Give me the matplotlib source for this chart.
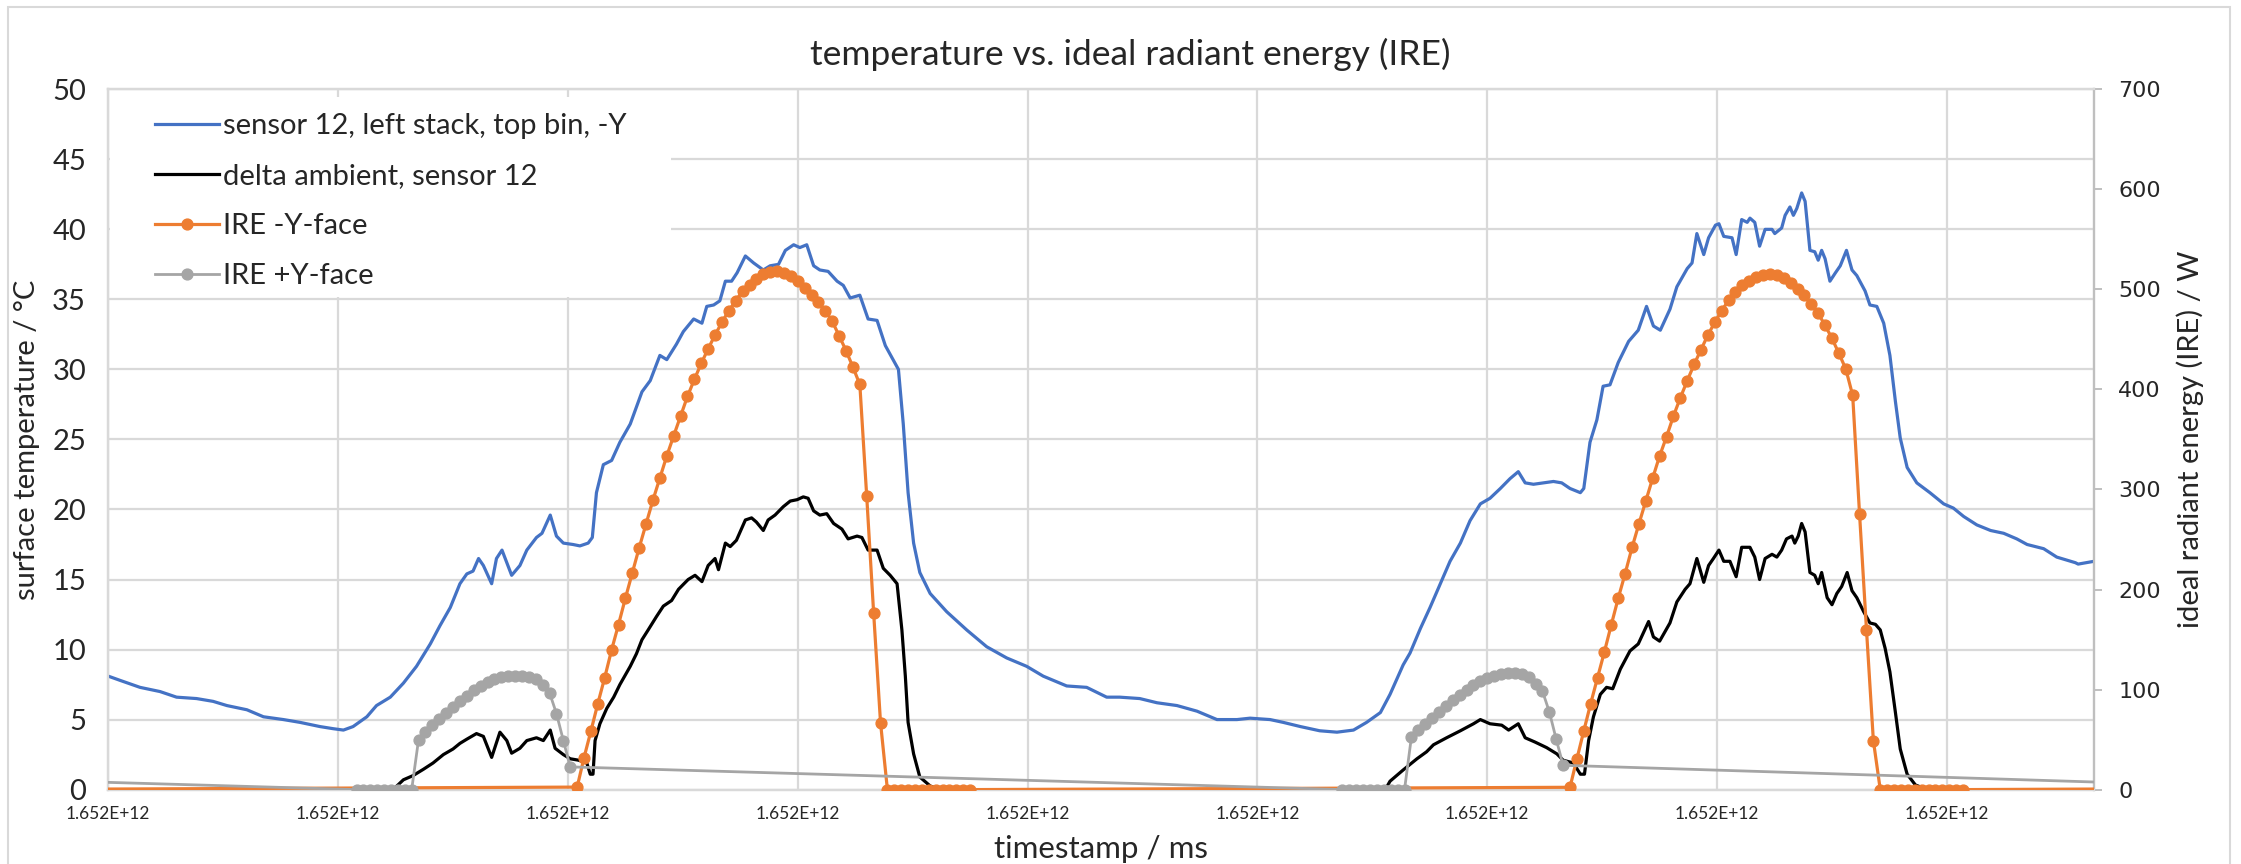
import numpy as np
import matplotlib
matplotlib.use("Agg")
import matplotlib.pyplot as plt
from matplotlib.patches import Rectangle
from matplotlib.ticker import FuncFormatter, MultipleLocator

# ---------------------------
# time base: x values are minutes after the axis start, plotted as ms timestamps
# ---------------------------
T0_MS = 1652040000000
TICK_MS = 2e7
SPAN_MIN = 2880
STEP_MIN = 10

# sensor 12, left stack, top bin, -Y  (degC)
sensor_min = [0, 17, 46, 75, 99, 128, 152, 172, 201, 225, 254, 278, 307, 326, 341, 355, 375, 389,
              409, 428, 447, 467, 481, 496, 510, 520, 529, 537, 544, 556, 563, 571, 585, 597, 607,
              621, 629, 641, 650, 660, 674, 684, 696, 702, 708, 718, 730, 742, 757, 774, 786, 800,
              810, 824, 834, 849, 861, 868, 878, 887, 895, 904, 912, 924, 936, 950, 960, 972, 982,
              994, 1003, 1013, 1023, 1032, 1044, 1057, 1066, 1076, 1090, 1102, 1115, 1127, 1136,
              1146, 1153, 1160, 1168, 1177, 1192, 1216, 1245, 1274, 1303, 1332, 1356, 1390, 1419,
              1448, 1467, 1496, 1521, 1550, 1579, 1608, 1637, 1656, 1685, 1704, 1729, 1757, 1782,
              1806, 1825, 1845, 1859, 1878, 1888, 1903, 1917, 1932, 1946, 1961, 1975, 1990, 2004,
              2019, 2033, 2045, 2055, 2067, 2082, 2096, 2108, 2120, 2135, 2140, 2149, 2159, 2168,
              2178, 2190, 2205, 2219, 2231, 2241, 2251, 2265, 2275, 2290, 2297, 2304, 2314, 2321,
              2331, 2336, 2343, 2355, 2361, 2369, 2377, 2381, 2388, 2395, 2403, 2413, 2417, 2427,
              2432, 2439, 2444, 2449, 2456, 2461, 2468, 2475, 2480, 2485, 2490, 2497, 2505, 2512,
              2521, 2529, 2536, 2548, 2555, 2565, 2575, 2584, 2592, 2599, 2609, 2623, 2642, 2662,
              2676, 2691, 2710, 2730, 2749, 2768, 2783, 2807, 2826, 2853, 2857, 2880]
sensor_temp = [8.1, 7.8, 7.3, 7.0, 6.6, 6.5, 6.3, 6.0, 5.7, 5.2, 5.0, 4.8, 4.5, 4.35, 4.25, 4.5, 5.2,
               6.0, 6.6, 7.6, 8.8, 10.4, 11.7, 13.0, 14.7, 15.4, 15.6, 16.5, 16.0, 14.7, 16.5, 17.1,
               15.3, 16.0, 17.1, 18.0, 18.3, 19.6, 18.1, 17.6, 17.5, 17.4, 17.6, 18.0, 21.2, 23.2,
               23.5, 24.8, 26.1, 28.4, 29.2, 31.0, 30.7, 31.8, 32.7, 33.6, 33.3, 34.5, 34.6, 34.9,
               36.3, 36.3, 36.9, 38.1, 37.6, 37.1, 37.4, 37.5, 38.5, 38.9, 38.7, 38.9, 37.4, 37.1,
               37.0, 36.3, 36.0, 35.1, 35.3, 33.6, 33.5, 31.7, 30.9, 30.0, 26.1, 21.2, 17.6, 15.5,
               14.0, 12.7, 11.4, 10.2, 9.4, 8.8, 8.1, 7.4, 7.3, 6.6, 6.6, 6.5, 6.2, 6.0, 5.6, 5.0,
               5.0, 5.1, 5.0, 4.8, 4.5, 4.2, 4.1, 4.25, 4.8, 5.5, 6.8, 8.9, 9.75, 11.5, 13.0, 14.7,
               16.3, 17.6, 19.2, 20.4, 20.8, 21.5, 22.2, 22.7, 21.9, 21.8, 21.9, 22.0, 21.9, 21.5,
               21.2, 21.5, 24.8, 26.4, 28.8, 28.9, 30.5, 32.0, 32.8, 34.5, 33.1, 32.8, 34.3, 35.9,
               37.2, 37.6, 39.7, 38.2, 39.4, 40.3, 40.4, 39.5, 39.4, 38.2, 40.7, 40.5, 40.8, 40.5,
               38.8, 40.0, 40.0, 39.7, 40.1, 41.0, 41.6, 41.0, 41.5, 42.6, 42.0, 38.5, 38.4, 37.8,
               38.5, 37.9, 36.3, 36.9, 37.4, 38.5, 37.1, 36.7, 35.6, 34.6, 34.5, 33.3, 31.0, 27.7,
               25.1, 23.0, 21.9, 21.2, 20.4, 20.1, 19.5, 18.9, 18.5, 18.3, 17.9, 17.5, 17.2, 16.6,
               16.2, 16.1, 16.3]

# delta ambient, sensor 12 (degC)
delta_min = [0, 413, 428, 442, 457, 471, 486, 500, 510, 520, 534, 544, 556, 568, 578, 585, 597, 607,
             621, 631, 641, 648, 660, 670, 682, 694, 699, 703, 706, 713, 723, 733, 742, 757, 766,
             774, 783, 795, 805, 817, 827, 841, 851, 861, 870, 880, 885, 895, 902, 911, 924, 933,
             940, 950, 957, 967, 979, 989, 999, 1008, 1015, 1023, 1032, 1042, 1052, 1064, 1073,
             1086, 1093, 1102, 1115, 1124, 1134, 1144, 1151, 1156, 1160, 1168, 1177, 1192, 1206,
             1852, 1859, 1878, 1898, 1912, 1922, 1941, 1961, 1980, 1990, 2004, 2021, 2031, 2045,
             2055, 2069, 2086, 2101, 2110, 2125, 2135, 2141, 2147, 2154, 2164, 2173, 2182, 2193,
             2207, 2219, 2234, 2241, 2250, 2265, 2275, 2287, 2294, 2304, 2314, 2321, 2328, 2336,
             2343, 2352, 2361, 2369, 2381, 2388, 2395, 2403, 2413, 2420, 2427, 2434, 2442, 2446,
             2451, 2456, 2461, 2468, 2475, 2480, 2485, 2493, 2500, 2507, 2514, 2522, 2529, 2536,
             2546, 2555, 2563, 2570, 2577, 2584, 2592, 2599, 2609, 2621, 2638, 2880]
delta_temp = [0, 0, 0.7, 1.0, 1.45, 1.9, 2.5, 2.9, 3.3, 3.6, 4.0, 3.8, 2.3, 4.1, 3.5, 2.6, 2.95, 3.5,
              3.7, 3.5, 4.25, 2.95, 2.5, 2.2, 2.1, 1.9, 1.1, 1.1, 3.5, 4.7, 5.8, 6.6, 7.5, 8.8, 9.7,
              10.7, 11.4, 12.35, 13.1, 13.5, 14.3, 15.0, 15.3, 14.85, 16.0, 16.5, 15.7, 17.6, 17.35,
              17.8, 19.25, 19.4, 19.1, 18.5, 19.25, 19.6, 20.2, 20.6, 20.7, 20.9, 20.8, 19.9, 19.6,
              19.7, 19.0, 18.6, 17.9, 18.1, 18.0, 17.1, 17.1, 15.8, 15.3, 14.7, 11.4, 8.1, 4.8, 2.55,
              0.9, 0.26, 0,
              0, 0.6, 1.4, 2.2, 2.7, 3.2, 3.7, 4.2, 4.7, 5.0, 4.7, 4.6, 4.25, 4.7, 3.7, 3.4, 3.0,
              2.55, 2.1, 1.9, 1.1, 1.1, 3.5, 5.2, 6.8, 7.3, 7.2, 8.6, 9.9, 10.4, 12.0, 10.9, 10.6,
              11.9, 13.4, 14.3, 14.7, 16.5, 14.8, 16.0, 16.5, 17.1, 16.3, 16.3, 15.2, 17.3, 17.3,
              16.6, 15.0, 16.5, 16.8, 16.6, 17.1, 17.9, 18.1, 17.6, 18.1, 19.0, 18.4, 15.5, 15.3,
              14.7, 15.5, 13.7, 13.2, 14.0, 14.5, 15.5, 14.2, 13.7, 12.7, 11.9, 11.8, 11.4, 10.1,
              8.4, 5.5, 2.9, 1.1, 0.33, 0, 0]

# IRE -Y-face (W), 10 minute samples per day
ire_neg_start = [680, 2120]
ire_neg_day1 = [2.5, 32, 58.6, 86, 112, 139.7, 165, 191.4, 216.6, 241.8, 265.7, 289.5, 311.5, 333.5,
                353.6, 373.3, 393, 410, 426, 440.6, 454.4, 467.2, 478.7, 488.7, 498.4, 504.8, 510.7,
                514.9, 517.6, 518, 516.5, 513, 508.4, 501.6, 494.7, 486.9, 478.7, 468.1, 453.5,
                438.8, 422.3, 405, 293, 177, 67,
                0, 0, 0, 0, 0, 0, 0, 0, 0, 0, 0, 0, 0]
ire_neg_day2 = [2.3, 30.7, 58.6, 86, 112, 138, 165, 191.4, 216, 242, 265.7, 288.6, 311.5, 333.5,
                352.7, 373.3, 391.6, 408.6, 425, 439.7, 454.4, 467, 478.7, 489, 497, 503.9, 508.4,
                512, 514.5, 515, 514, 511, 506, 500, 494, 485.5, 476, 464, 451, 436, 420.5, 394,
                275, 160, 49,
                0, 0, 0, 0, 0, 0, 0, 0, 0, 0, 0, 0, 0]
ire_neg_prev = (-190, 0.0)    # last sample of the day before
ire_neg_next = (3560, 2.5)    # first sample of the day after

# IRE +Y-face (W)
ire_pos_start = [360, 1790]
ire_pos_day1 = [0, 0, 0, 0, 0, 0, 0, 0, 0,
                50, 58, 65, 71, 77, 83, 89, 94, 99.5, 104, 107.5, 110.5, 112.5, 113.5, 114, 114,
                113, 110.5, 104.5, 96.7, 76, 49, 22.7]
ire_pos_day2 = [0, 0, 0, 0, 0, 0, 0, 0, 0, 0,
                52.6, 59.5, 66, 72, 78, 84, 90, 95, 100, 104.5, 108.5, 111.5, 114, 115.5, 116.5,
                116.5, 115.5, 112.5, 106, 98.5, 77.8, 50.4, 24.3]
ire_pos_prev = (-770, 22.7)
ire_pos_next = (3230, 0.0)

labels = ['sensor 12, left stack, top bin, -Y', 'delta ambient, sensor 12',
          'IRE -Y-face', 'IRE +Y-face']


def to_ms(minutes):
    return T0_MS + np.asarray(minutes, dtype=float) * 60000.0


def sampled(starts, days, prev, nxt):
    t = [prev[0]]
    v = [prev[1]]
    for s, d in zip(starts, days):
        t += list(s + STEP_MIN * np.arange(len(d)))
        v += list(d)
    t.append(nxt[0])
    v.append(nxt[1])
    return to_ms(t), np.array(v)


BLUE = '#4472C4'
ORANGE = '#ED7D31'
GRAY = '#A5A5A5'
GRID = '#d9d9d9'
TXT = '#262626'

plt.rcParams['font.family'] = ['Lato', 'DejaVu Sans']

fig = plt.figure(figsize=(22.41, 8.64), dpi=100)
ax = fig.add_axes([108.3 / 2241, 1 - 789.6 / 864, 1985.7 / 2241, 700.3 / 864])
ax2 = ax.twinx()

l1, = ax.plot(to_ms(sensor_min), sensor_temp, color=BLUE, lw=2.3, zorder=3)
l2, = ax.plot(to_ms(delta_min), delta_temp, color='black', lw=2.3, zorder=3)

xn, yn = sampled(ire_neg_start, [ire_neg_day1, ire_neg_day2], ire_neg_prev, ire_neg_next)
xp, yp = sampled(ire_pos_start, [ire_pos_day1, ire_pos_day2], ire_pos_prev, ire_pos_next)
l3, = ax2.plot(xn, yn, color=ORANGE, lw=2.3, marker='o', ms=7.8, zorder=3)
l4, = ax2.plot(xp, yp, color=GRAY, lw=2.0, marker='o', ms=7.8, zorder=4)

# axes limits and ticks
ax.set_xlim(T0_MS, T0_MS + SPAN_MIN * 60000.0)
ax.set_ylim(0, 50)
ax2.set_ylim(0, 700)
ax.xaxis.set_major_locator(MultipleLocator(TICK_MS))
ax.xaxis.set_major_formatter(FuncFormatter(lambda v, p: f"{v:.3E}"))
ax.yaxis.set_major_locator(MultipleLocator(5))
ax2.yaxis.set_major_locator(MultipleLocator(100))

ax.grid(True, color=GRID, lw=1.6)
ax.set_axisbelow(True)
for a in (ax, ax2):
    for s in a.spines.values():
        s.set_color(GRID)
        s.set_linewidth(1.6)
ax2.spines['right'].set_color('#bfbfbf')

ax.tick_params(axis='x', length=0, pad=12, labelsize=12.5, labelcolor=TXT)
ax.tick_params(axis='y', length=0, pad=16, labelsize=21, labelcolor=TXT)
ax2.tick_params(axis='y', length=5.5, width=1.4, color='#bfbfbf', pad=12, labelcolor=TXT)
for t in ax2.get_yticklabels():
    t.set_fontfamily('DejaVu Sans')
    t.set_fontsize(16)

ax.set_xlabel('timestamp / ms', fontsize=22.5, color=TXT)
ax.xaxis.label.set_va('center')
ax.xaxis.set_label_coords(0.5, (789.6 - 849) / 700.3)
ax.set_ylabel('surface temperature / °C', fontsize=21, color=TXT)
ax.yaxis.label.set_va('center')
ax.yaxis.set_label_coords((27 - 108.3) / 1985.7, 0.5)
ax2.set_ylabel('ideal radiant energy (IRE) / W', fontsize=21, color=TXT)
ax2.yaxis.label.set_va('center')
ax2.yaxis.set_label_coords((2190 - 108.3) / 1985.7, 0.5)

fig.text(1130 / 2241, 1 - 54 / 864, 'temperature vs. ideal radiant energy (IRE)',
         ha='center', va='center', fontsize=25.5, color=TXT)

# legend sits on a white box that hides the grid behind it
ax2.add_patch(Rectangle(((110 - 108.3) / 1985.7, (789.6 - 297) / 700.3),
                        (671 - 110) / 1985.7, (297 - 97) / 700.3,
                        transform=ax2.transAxes, facecolor='white', edgecolor='none', zorder=5))
leg = ax2.legend([l1, l2, l3, l4], labels, loc='upper left',
                 bbox_to_anchor=((146 - 108.3) / 1985.7, (789.6 - 104) / 700.3),
                 borderaxespad=0, borderpad=0.3, frameon=False, fontsize=21,
                 handlelength=2.2, handletextpad=0.15, labelspacing=0.83)
leg.set_zorder(6)
for t in leg.get_texts():
    t.set_color(TXT)

# chart area border
fig.patches.append(Rectangle((7.6 / 2241, -0.01), (2230 - 7.6) / 2241, 1.0022,
                             transform=fig.transFigure, fill=False, edgecolor=GRID, lw=1.5))

fig.savefig('out.png', dpi=100)
